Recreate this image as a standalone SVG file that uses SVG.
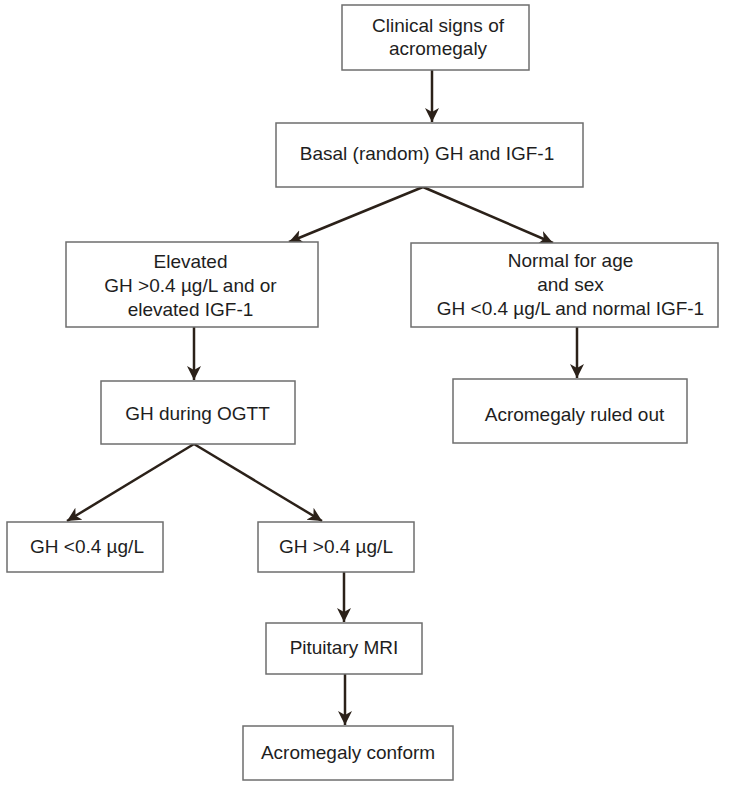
<svg xmlns="http://www.w3.org/2000/svg" width="736" height="787" viewBox="0 0 736 787">
<defs>
<marker id="ah" markerUnits="userSpaceOnUse" markerWidth="18" markerHeight="16" refX="14" refY="7" orient="auto">
<path d="M0,0 L14,7 L0,14 L4,7 Z" fill="#2b2119"/>
</marker>
<style>
.box{fill:#fff;stroke:#6e6e6e;stroke-width:1.5}
.t{font-family:"Liberation Sans",Arial,sans-serif;font-size:19px;fill:#1e1e1e;text-anchor:middle}
.c{fill:none;stroke:#2b2119;stroke-width:2.5;marker-end:url(#ah)}
</style>
</defs>
<rect width="736" height="787" fill="#fff"/>
<g id="connectors">
<line class="c" x1="432" y1="70" x2="432" y2="122"/>
<line class="c" x1="423" y1="187" x2="289" y2="242"/>
<line class="c" x1="423" y1="187" x2="553" y2="243"/>
<line class="c" x1="194" y1="327" x2="194" y2="380"/>
<line class="c" x1="577" y1="327" x2="577" y2="378"/>
<line class="c" x1="194" y1="444" x2="67" y2="521"/>
<line class="c" x1="194" y1="444" x2="322" y2="521"/>
<line class="c" x1="344" y1="572" x2="344" y2="622"/>
<line class="c" x1="345" y1="674" x2="345" y2="725"/>
</g>
<g id="n1"><rect class="box" x="342" y="5" width="187" height="65"/>
<text class="t" x="438" y="32">Clinical signs of</text><text class="t" x="438" y="55">acromegaly</text></g>
<g id="n2"><rect class="box" x="276" y="123" width="307" height="64"/>
<text class="t" x="427" y="160">Basal (random) GH and IGF-1</text></g>
<g id="n3"><rect class="box" x="66" y="242" width="252" height="85"/>
<text class="t" x="190.5" y="268">Elevated</text><text class="t" x="190.5" y="292">GH &gt;0.4 µg/L and or</text><text class="t" x="190.5" y="316">elevated IGF-1</text></g>
<g id="n4"><rect class="box" x="411" y="243" width="307" height="84"/>
<text class="t" x="570.5" y="267">Normal for age</text><text class="t" x="570.5" y="291">and sex</text><text class="t" x="570.5" y="315">GH &lt;0.4 µg/L and normal IGF-1</text></g>
<g id="n5"><rect class="box" x="101" y="381" width="194" height="63"/>
<text class="t" x="197.5" y="420">GH during OGTT</text></g>
<g id="n6"><rect class="box" x="453" y="379" width="234" height="64"/>
<text class="t" x="574.5" y="421">Acromegaly ruled out</text></g>
<g id="n7"><rect class="box" x="7" y="522" width="156" height="50"/>
<text class="t" x="87" y="553">GH &lt;0.4 µg/L</text></g>
<g id="n8"><rect class="box" x="258" y="522" width="156" height="50"/>
<text class="t" x="336" y="553">GH &gt;0.4 µg/L</text></g>
<g id="n9"><rect class="box" x="266" y="623" width="156" height="51"/>
<text class="t" x="344" y="654">Pituitary MRI</text></g>
<g id="n10"><rect class="box" x="243" y="726" width="210" height="54"/>
<text class="t" x="348" y="759">Acromegaly conform</text></g>
</svg>
